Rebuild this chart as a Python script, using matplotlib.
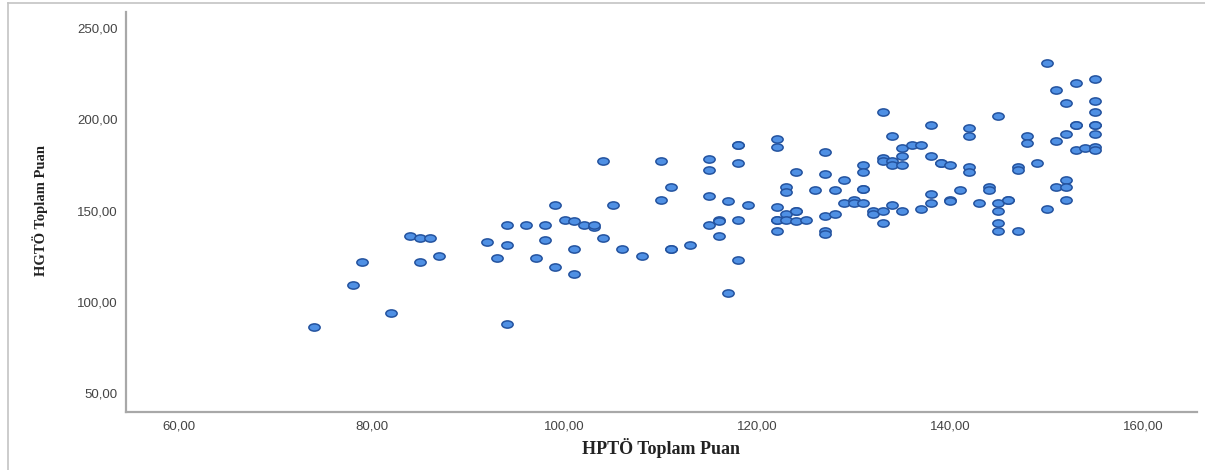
import matplotlib
matplotlib.use("Agg")
import matplotlib.pyplot as plt
from matplotlib.path import Path
from matplotlib.lines import Line2D
import numpy as np

# HPTÖ (x) vs HGTÖ (y) toplam puan
hpto = [74, 78, 79, 82, 84, 85, 86, 85, 87, 92, 93, 94, 94, 94, 96, 97, 98, 98, 99, 99,
        100, 101, 101, 101, 102, 103, 103, 104, 104, 105, 106, 108, 110, 110, 111, 111, 111,
        113, 115, 115, 115, 115, 116, 116, 116, 117, 117, 118, 118, 118, 118, 118, 119,
        122, 122, 122, 122, 122, 122, 123, 123, 123, 123, 124, 124, 124, 124, 125, 126,
        127, 127, 127, 127, 127, 128, 128, 129, 129, 130, 130, 131, 131, 131, 131, 131,
        132, 132, 133, 133, 133, 133, 133, 134, 134, 134, 134, 135, 135, 135, 135, 136,
        137, 137, 138, 138, 138, 138, 139, 139, 140, 140, 140, 141, 142, 142, 142, 142,
        143, 144, 144, 145, 145, 145, 145, 145, 146, 146, 147, 147, 147, 148, 148, 149,
        150, 150, 151, 151, 151, 152, 152, 152, 152, 152, 153, 153, 153, 153, 154,
        155, 155, 155, 155, 155, 155, 155, 155]
hgto = [86, 109, 122, 94, 136, 135, 135, 122, 125, 133, 124, 142, 131, 88, 142, 124, 142, 134, 153, 119,
        145, 144, 129, 115, 142, 141, 142, 177, 135, 153, 129, 125, 177, 156, 163, 129, 129,
        131, 178, 172, 158, 142, 145, 144, 136, 155, 105, 186, 186, 176, 145, 123, 153,
        189, 185, 152, 145, 145, 139, 163, 160, 148, 145, 171, 150, 150, 144, 145, 161,
        182, 170, 147, 139, 137, 161, 148, 167, 154, 156, 154, 175, 171, 162, 162, 154,
        150, 148, 204, 179, 177, 150, 143, 191, 177, 175, 153, 184, 180, 175, 150, 186,
        186, 151, 197, 180, 159, 154, 176, 176, 175, 156, 155, 161, 195, 191, 174, 171,
        154, 163, 161, 202, 154, 150, 143, 139, 156, 156, 174, 172, 139, 191, 187, 176,
        231, 151, 216, 188, 163, 209, 192, 167, 163, 156, 220, 197, 197, 183, 184,
        222, 210, 204, 197, 197, 192, 185, 183]

x_ticks = [60, 80, 100, 120, 140, 160]
y_ticks = [50, 100, 150, 200, 250]

# the picture is stretched sideways, so the dots are flat ellipses
circ = Path.unit_circle()
flat_dot = Path(circ.vertices * np.array([1.0, 0.64]), circ.codes)

fig = plt.figure(figsize=(12.05, 4.70), dpi=100)
ax = fig.add_axes([126 / 1205, 1 - 412 / 470, 1071 / 1205, 400 / 470])

ax.scatter(hpto, hgto, marker=flat_dot, s=66, facecolor="#4f90e4",
           edgecolor="#24539f", linewidth=1.1, zorder=3)

ax.set_xlim(54.5, 165.6)
ax.set_ylim(39.6, 258.8)
ax.set_xticks(x_ticks)
ax.set_yticks(y_ticks)
ax.set_xticklabels([f"{v},00" for v in x_ticks])
ax.set_yticklabels([f"{v},00" for v in y_ticks])
ax.tick_params(length=0, labelsize=9.5, labelcolor="#444444", pad=6)
for lab in ax.get_xticklabels() + ax.get_yticklabels():
    lab.set_family("Liberation Sans")

for side in ["top", "right"]:
    ax.spines[side].set_visible(False)
for side in ["left", "bottom"]:
    ax.spines[side].set_color("#a8a8a8")
    ax.spines[side].set_linewidth(1.6)

fig.text(661 / 1205, 1 - 448 / 470, "HPTÖ Toplam Puan", ha="center", va="center",
         family="Liberation Serif", fontweight="bold", fontsize=13, color="#222222")
fig.text(40 / 1205, 1 - 210 / 470, "HGTÖ Toplam Puan", ha="center", va="center",
         rotation=90, family="Liberation Serif", fontweight="bold", fontsize=10.5,
         color="#222222")

# thin grey frame of the original viewer
fig.add_artist(Line2D([8 / 1205, 1], [1 - 3 / 470, 1 - 3 / 470], color="#c4c4c4", lw=1.2))
fig.add_artist(Line2D([8 / 1205, 8 / 1205], [0, 1 - 3 / 470], color="#c4c4c4", lw=1.2))

fig.savefig("out.png", dpi=100)
